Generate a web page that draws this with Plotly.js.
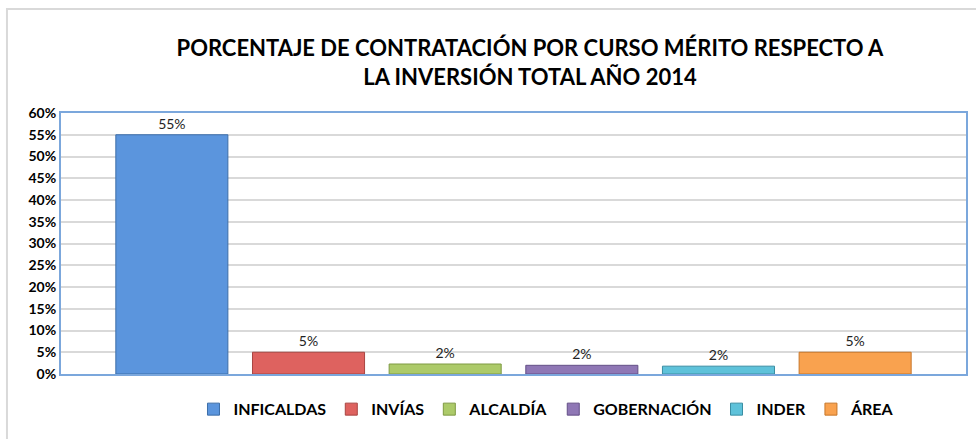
<!DOCTYPE html>
<html>
<head>
<meta charset="utf-8">
<script src="https://cdn.plot.ly/plotly-3.0.1.min.js"></script>
<style>html,body{margin:0;padding:0;background:#fff;}#chart{width:976px;height:439px;}</style>
</head>
<body>
<div id="chart"></div>
<script>
const seriesNames = ['INFICALDAS', 'INVÍAS', 'ALCALDÍA', 'GOBERNACIÓN', 'INDER', 'ÁREA'];
const seriesValues = [0.55, 0.05, 0.023, 0.02, 0.018, 0.05];
const category = ['2014'];
const titleText = 'PORCENTAJE DE CONTRATACIÓN POR CURSO MÉRITO RESPECTO A<br>LA INVERSIÓN TOTAL AÑO 2014';

const fillColors = ['#5b95dd', '#de625f', '#acca69', '#8f77b5', '#5ec2da', '#f9a24f'];
const lineColors = ['#3d6ea8', '#a84542', '#7f9a43', '#634f86', '#3a8ea3', '#c77629'];

const traces = seriesNames.map((name, i) => ({
  type: 'bar',
  name: name,
  x: category,
  y: [seriesValues[i]],
  marker: { color: fillColors[i], line: { color: lineColors[i], width: 1 } },
  texttemplate: '%{y:.0%}',
  textposition: 'outside',
  cliponaxis: false,
  textfont: { family: 'Lato, sans-serif', size: 14, color: '#222' },
  hoverinfo: 'skip'
}));

const layout = {
  width: 976,
  height: 439,
  margin: { l: 61, r: 10, t: 113, b: 65 },
  paper_bgcolor: '#fff',
  plot_bgcolor: '#fff',
  font: { family: 'Lato, sans-serif', color: '#000' },
  title: {
    text: titleText,
    font: { family: 'Lato, sans-serif', size: 22, weight: 'bold', color: '#000' },
    x: 0.543, xref: 'container', xanchor: 'center',
    y: 0.872, yref: 'container', yanchor: 'middle'
  },
  barmode: 'group',
  bargap: 0.094,
  bargroupgap: 0.18,
  showlegend: true,
  legend: {
    orientation: 'h',
    x: 0.537, xanchor: 'center',
    y: -0.135, yanchor: 'middle',
    font: { family: 'Lato, sans-serif', size: 16, weight: 'bold', color: '#000' },
    itemwidth: 30,
    traceorder: 'normal'
  },
  xaxis: {
    type: 'category',
    showticklabels: false,
    showgrid: false,
    zeroline: false,
    showline: true,
    mirror: true,
    linecolor: '#7ba7dc',
    linewidth: 2,
    ticks: ''
  },
  yaxis: {
    range: [0, 0.6],
    dtick: 0.05,
    tickformat: '.0%',
    showgrid: true,
    gridcolor: '#d9d9d9',
    gridwidth: 2,
    zeroline: false,
    showline: true,
    mirror: true,
    linecolor: '#7ba7dc',
    linewidth: 2,
    ticks: '',
    tickfont: { family: 'Lato, sans-serif', size: 14, weight: 'bold', color: '#000' }
  },
  shapes: [{
    type: 'rect', xref: 'paper', yref: 'paper',
    x0: -0.0597, x1: 1.03, y0: -0.3, y1: 1.398,
    line: { color: '#d9d9d9', width: 2 },
    layer: 'below'
  }]
};

Plotly.newPlot('chart', traces, layout, { displayModeBar: false, staticPlot: true });
</script>
</body>
</html>
